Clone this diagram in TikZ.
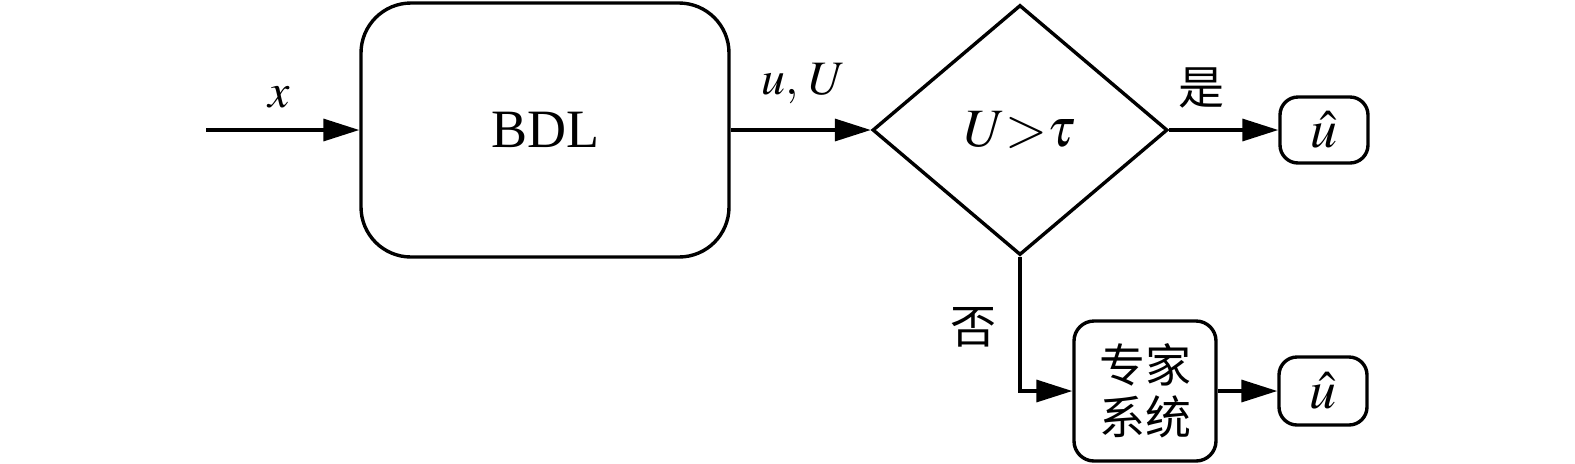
\documentclass[tikz,border=0pt]{standalone}
\usepackage{mathptmx}
\usepackage{fontspec}
\setmainfont{Liberation Serif}
\newfontfamily\cjk{Noto Sans CJK SC}
\usetikzlibrary{arrows.meta,shapes.geometric}
\begin{document}
\begin{tikzpicture}[x=0.25pt,y=-0.25pt,
  every node/.style={font=\fontsize{12pt}{14pt}\selectfont},
  big/.style={font=\fontsize{13.5pt}{15pt}\selectfont},
  blk/.style={draw,line width=0.85pt,inner sep=0pt},
  arr/.style={line width=0.85pt,-{Triangle[length=9pt,width=5.5pt]}},
  lbl/.style={inner sep=0pt}]
\useasboundingbox (0,0) rectangle (1575,463);
\node[blk,big,rounded corners=12.5pt,minimum width=92pt,minimum height=63.5pt] (bdl) at (545,130) {BDL};
\node[blk,big,diamond,aspect=1.18,minimum width=73.75pt,minimum height=62.5pt] (dia) at (1020,130) {$U{>}\tau$};
\node[blk,big,rounded corners=4.5pt,minimum width=22pt,minimum height=16.5pt] (u1) at (1324,130) {$\hat{u}$};
\node[blk,rounded corners=5pt,minimum width=35.5pt,minimum height=35pt,align=center,font=\cjk\fontsize{11.5pt}{13pt}\selectfont] (exp) at (1145,391) {专家\\系统};
\node[blk,big,rounded corners=4.5pt,minimum width=22pt,minimum height=17pt] (u2) at (1323,391) {$\hat{u}$};
\coordinate (in) at (206,130);
\draw[arr] (in) -- (bdl.west) node[lbl,pos=0.48,above=5pt] (lx) {$x$};
\draw[arr] (bdl.east) -- (dia.west) node[lbl,pos=0.52,above=6pt] (luU) {$u,\,U$};
\draw[arr] (dia.east) -- (u1.west) node[lbl,pos=0.3,above=5pt,font=\cjk\fontsize{11.5pt}{13pt}\selectfont] (lyes) {是};
\draw[arr] (dia.south) |- (exp.west);
\node[lbl,font=\cjk\fontsize{11.5pt}{13pt}\selectfont] (lno) at (973,327) {否};
\draw[arr] (exp.east) -- (u2.west);
\end{tikzpicture}
\end{document}
